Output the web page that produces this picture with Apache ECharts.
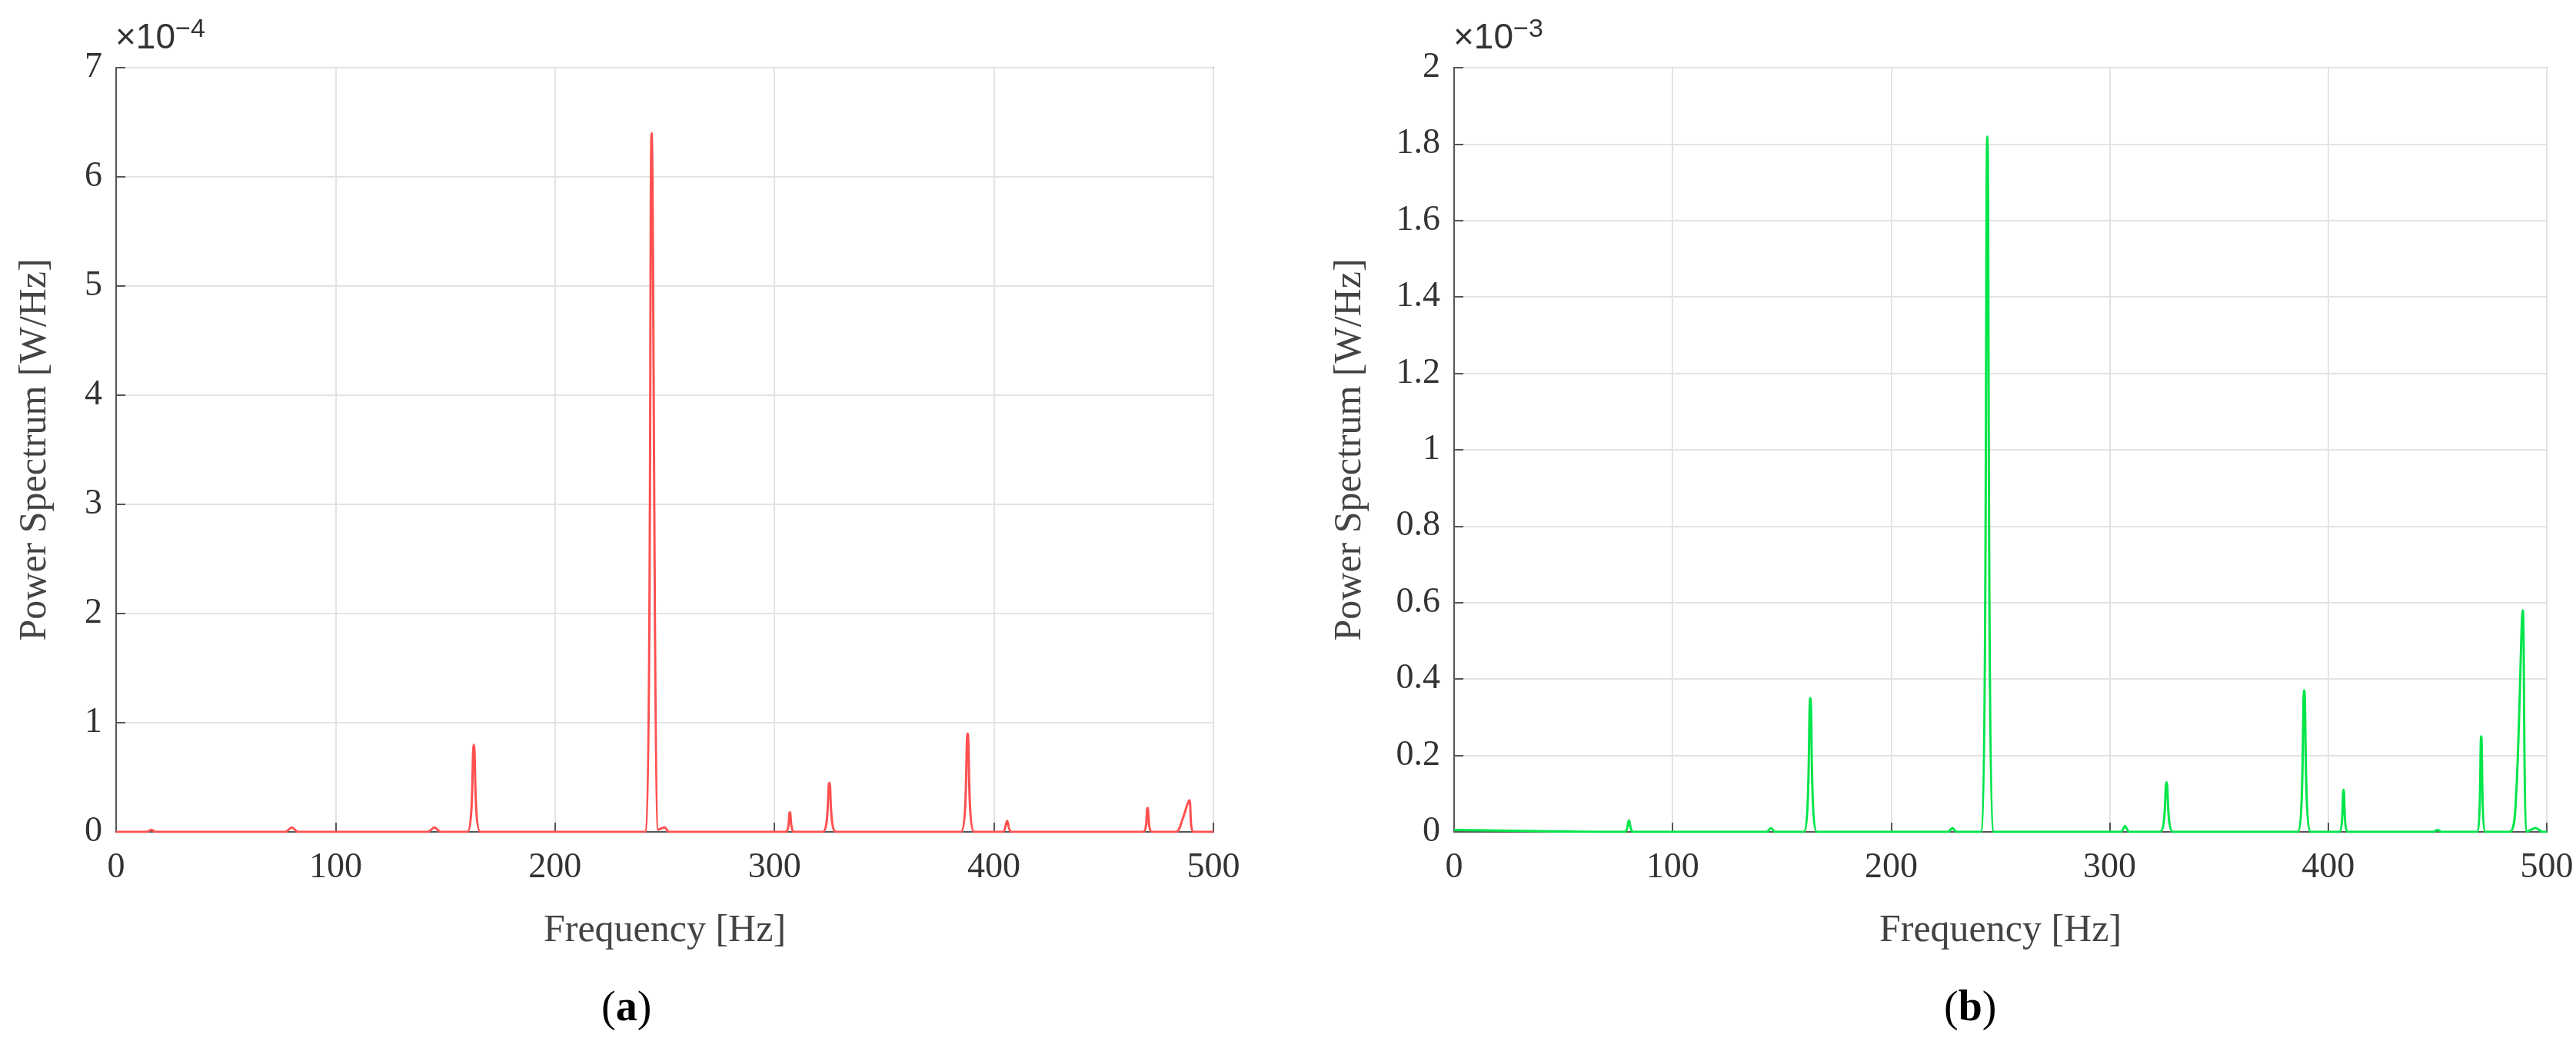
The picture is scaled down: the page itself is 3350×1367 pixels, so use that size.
<!DOCTYPE html>
<html>
<head>
<meta charset="utf-8">
<script src="https://cdn.jsdelivr.net/npm/echarts@6/dist/echarts.min.js"></script>
</head>
<body style="margin:0;background:#fff">
<div id="container" style="width:3350px;height:1367px"></div>
<script>
// (a) spectrum, units 1e-4 W/Hz
var freqA = [0, 14, 16, 18, 77, 80, 83, 142, 145, 148, 160, 163, 166, 241, 244, 247, 250, 252, 305, 307, 309, 322, 325, 328, 385, 388, 391, 404, 406, 408, 468, 470, 472, 483, 486, 489, 491, 500];
var powA  = [0, 0, 0.02, 0, 0, 0.04, 0, 0, 0.04, 0, 0, 0.8, 0, 0, 6.4, 0.02, 0.04, 0, 0, 0.18, 0, 0, 0.45, 0, 0, 0.9, 0, 0, 0.1, 0, 0, 0.22, 0, 0, 0.12, 0.29, 0, 0];
// (b) spectrum, units 1e-3 W/Hz
var freqB = [0, 78, 80, 82, 143, 145, 147, 160, 163, 166, 226, 228, 230, 241, 244, 247, 305, 307, 309, 323, 326, 329, 386, 389, 392, 405, 407, 409, 448, 450, 452, 468, 470, 472, 483, 486, 489, 491, 495, 498, 500];
var powB  = [0.005, 0, 0.03, 0, 0, 0.01, 0, 0, 0.35, 0, 0, 0.01, 0, 0, 1.82, 0, 0, 0.015, 0, 0, 0.13, 0, 0, 0.37, 0, 0, 0.11, 0, 0, 0.005, 0, 0, 0.25, 0, 0, 0.1, 0.58, 0, 0.01, 0, 0];
var xTicks = [0, 100, 200, 300, 400, 500];

var font = 'Liberation Serif';
var myChart = echarts.init(document.getElementById('container'));

function pairs(xs, ys) { return xs.map(function (x, i) { return [x, ys[i]]; }); }

function xAxisOf(idx) {
  return {
    type: 'value', gridIndex: idx, min: xTicks[0], max: xTicks[xTicks.length - 1], interval: 100,
    name: 'Frequency [Hz]', nameLocation: 'middle', nameGap: 104,
    nameTextStyle: { fontFamily: font, fontSize: 50, color: '#444' },
    axisLine: { lineStyle: { color: '#555', width: 2 } },
    axisTick: { show: true, inside: true, length: 12, lineStyle: { color: '#555', width: 2 } },
    axisLabel: { fontFamily: font, fontSize: 46, color: '#333', margin: 24 },
    splitLine: { show: true, lineStyle: { color: '#e3e3e3', width: 2 } }
  };
}
function yAxisOf(idx, max, interval, fmt) {
  return {
    type: 'value', gridIndex: idx, min: 0, max: max, interval: interval,
    name: 'Power Spectrum [W/Hz]', nameLocation: 'middle', nameGap: idx === 0 ? 80 : 110,
    nameTextStyle: { fontFamily: font, fontSize: 50, color: '#444' },
    axisLine: { show: true, lineStyle: { color: '#555', width: 2 } },
    axisTick: { show: true, inside: true, length: 12, lineStyle: { color: '#555', width: 2 } },
    axisLabel: { fontFamily: font, fontSize: 46, color: '#333', margin: 18, formatter: fmt },
    splitLine: { show: true, lineStyle: { color: '#e3e3e3', width: 2 } }
  };
}

var sup = { s: { fontSize: 34, fontFamily: 'Liberation Sans', fill: '#333', padding: [0, 0, 22, 0] } };

var option = {
  animation: false,
  textStyle: { fontFamily: font },
  grid: [
    { left: 151, top: 88, width: 1427, height: 994, show: true, borderColor: '#777', borderWidth: 2 },
    { left: 1891, top: 88, width: 1421, height: 994, show: true, borderColor: '#777', borderWidth: 2 }
  ],
  xAxis: [xAxisOf(0), xAxisOf(1)],
  yAxis: [
    yAxisOf(0, 7, 1, function (v) { return v; }),
    yAxisOf(1, 2, 0.2, function (v) { return Math.round(v * 10) / 10; })
  ],
  series: [
    { type: 'line', xAxisIndex: 0, yAxisIndex: 0, data: pairs(freqA, powA), symbol: 'none', smooth: 0.3,
      lineStyle: { color: '#ff5050', width: 3 } },
    { type: 'line', xAxisIndex: 1, yAxisIndex: 1, data: pairs(freqB, powB), symbol: 'none', smooth: 0.3,
      lineStyle: { color: '#00e54a', width: 3 } }
  ],
  graphic: [
    { type: 'text', left: 150, top: 22, style: { text: '×10{s|−4}', rich: sup, fontFamily: 'Liberation Sans', fontSize: 46, fill: '#333' } },
    { type: 'text', left: 1890, top: 22, style: { text: '×10{s|−3}', rich: sup, fontFamily: 'Liberation Sans', fontSize: 46, fill: '#333' } },
    { type: 'text', left: 782, top: 1285, style: { text: '({b|a})', rich: { b: { fontFamily: font, fontSize: 56, fontWeight: 'bold', fill: '#000' } }, fontFamily: font, fontSize: 56, fill: '#000' } },
    { type: 'text', left: 2528, top: 1285, style: { text: '({b|b})', rich: { b: { fontFamily: font, fontSize: 56, fontWeight: 'bold', fill: '#000' } }, fontFamily: font, fontSize: 56, fill: '#000' } }
  ]
};
myChart.setOption(option);
</script>
</body>
</html>
